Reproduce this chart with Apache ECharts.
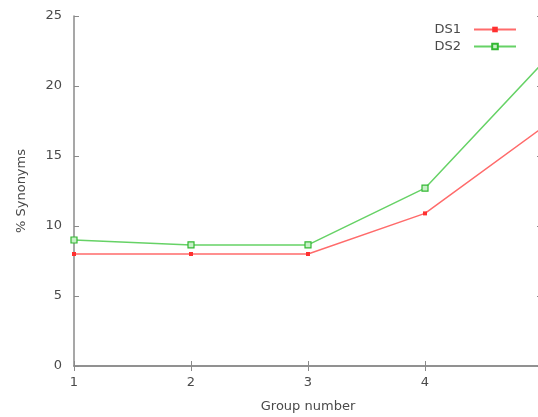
<!DOCTYPE html>
<html>
<head>
<meta charset="utf-8">
<script src="https://cdn.jsdelivr.net/npm/echarts@6/dist/echarts.min.js"></script>
<style>html,body{margin:0;padding:0;background:#fff;}#c{width:538px;height:417px;}</style>
</head>
<body>
<div id="c"></div>
<script>
const groups = [1, 2, 3, 4, 5];
const ds1 = [8.0, 8.0, 8.0, 10.9, 17.0];
const ds2 = [9.0, 8.65, 8.65, 12.7, 21.6];
const yTicks = [0, 5, 10, 15, 20, 25];

const chart = echarts.init(document.getElementById('c'), null, {renderer: 'canvas'});
const axisCol = '#8a8a8a';
const txtCol = '#4a4a4a';
const font = 'DejaVu Sans';
chart.setOption({
  animation: false,
  backgroundColor: '#fff',
  textStyle: {fontFamily: font},
  grid: {left: 74, top: 16, right: -4, bottom: 51, containLabel: false, outerBoundsMode: 'none'},
  legend: {
    right: 16, top: 18, orient: 'vertical', align: 'right',
    itemWidth: 42, itemHeight: 7, itemGap: 4,
    textStyle: {fontFamily: font, fontSize: 13, color: txtCol, padding: [0, 8, 0, 0]},
    data: ['DS1', 'DS2']
  },
  xAxis: [{
    type: 'value', min: groups[0], max: groups[groups.length - 1], interval: 1,
    name: 'Group number', nameLocation: 'middle', nameGap: 34,
    nameTextStyle: {fontFamily: font, fontSize: 13, color: txtCol},
    axisLine: {lineStyle: {color: axisCol, width: 1.5}},
    axisTick: {inside: true, length: 5, lineStyle: {color: axisCol}},
    axisLabel: {fontFamily: font, fontSize: 13, color: txtCol, margin: 10, showMaxLabel: true, showMinLabel: true, hideOverlap: false},
    splitLine: {show: false}
  }, {
    type: 'value', position: 'top', min: groups[0], max: groups[groups.length - 1], interval: 1,
    axisLine: {show: true, lineStyle: {color: axisCol, width: 1.5}},
    axisTick: {inside: true, length: 5, lineStyle: {color: axisCol}},
    axisLabel: {show: false}, splitLine: {show: false}
  }],
  yAxis: [{
    type: 'value', min: yTicks[0], max: yTicks[yTicks.length - 1], interval: 5,
    name: '% Synonyms', nameLocation: 'middle', nameGap: 46,
    nameTextStyle: {fontFamily: font, fontSize: 13, color: txtCol},
    axisLine: {show: true, lineStyle: {color: axisCol, width: 1.5}},
    axisTick: {show: true, inside: true, length: 5, lineStyle: {color: axisCol}},
    axisLabel: {fontFamily: font, fontSize: 13, color: txtCol, margin: 12},
    splitLine: {show: false}
  }, {
    type: 'value', position: 'right', min: yTicks[0], max: yTicks[yTicks.length - 1], interval: 5,
    axisLine: {show: true, lineStyle: {color: axisCol, width: 1.5}},
    axisTick: {show: true, inside: true, length: 5, lineStyle: {color: axisCol}},
    axisLabel: {show: false}, splitLine: {show: false}
  }],
  series: [{
    name: 'DS1', type: 'line',
    data: groups.map((g, i) => [g, ds1[i]]),
    lineStyle: {color: '#ff6b6b', width: 1.5},
    itemStyle: {color: '#ff3030'},
    symbol: 'rect', symbolSize: 4
  }, {
    name: 'DS2', type: 'line',
    data: groups.map((g, i) => [g, ds2[i]]),
    lineStyle: {color: '#66d266', width: 1.5},
    itemStyle: {color: '#c8f0c8', borderColor: '#33b833', borderWidth: 1.2},
    symbol: 'rect', symbolSize: 6
  }]
});
</script>
</body>
</html>
